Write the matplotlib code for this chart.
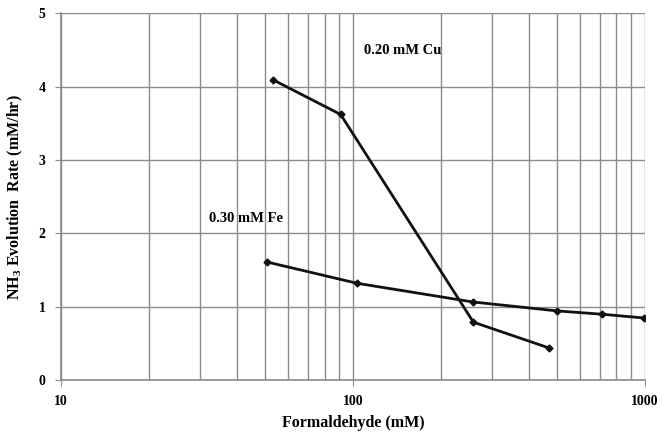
import numpy as np
import matplotlib
matplotlib.use('Agg')
import matplotlib.pyplot as plt
from matplotlib.ticker import LogLocator, FixedLocator, NullFormatter

plt.rcParams['font.family'] = ['Liberation Serif', 'DejaVu Serif']
plt.rcParams['font.weight'] = 'bold'
plt.rcParams['mathtext.fontset'] = 'custom'
plt.rcParams['mathtext.rm'] = 'Liberation Serif:bold'
plt.rcParams['mathtext.bf'] = 'Liberation Serif:bold'

# data
cu_x = [53.4, 90.8, 258.8, 469]
cu_y = [4.09, 3.62, 0.79, 0.44]
fe_x = [50.8, 103.4, 257, 500, 716, 990]
fe_y = [1.61, 1.32, 1.066, 0.944, 0.898, 0.848]
cu_label = '0.20 mM Cu'
fe_label = '0.30 mM Fe'

fig = plt.figure(figsize=(6.62, 4.38), dpi=100)
ax = fig.add_axes([0.092, 0.132, 0.882, 0.838])

grid_color = '#8c8c8c'
ax.set_xscale('log')
ax.set_xlim(10, 1000)
ax.set_ylim(0, 5)
ax.xaxis.set_major_locator(FixedLocator([10, 100, 1000]))
ax.xaxis.set_minor_locator(LogLocator(base=10, subs=np.arange(2, 10)))
ax.xaxis.set_minor_formatter(NullFormatter())
ax.set_xticks([10, 100, 1000])
ax.set_xticklabels(['10', '100', '1000'])
ax.set_yticks([0, 1, 2, 3, 4, 5])

ax.grid(True, which='both', axis='x', color=grid_color, linewidth=1.0)
ax.grid(True, which='major', axis='y', color=grid_color, linewidth=1.0)
ax.set_axisbelow(True)

for side in ['top', 'right']:
    ax.spines[side].set_visible(False)
for side in ['left', 'bottom']:
    ax.spines[side].set_color(grid_color)
    ax.spines[side].set_linewidth(1.2)

ax.tick_params(which='major', direction='out', length=4, color=grid_color,
               labelsize=10, pad=7)
ax.tick_params(which='minor', length=0)

ax.plot(cu_x, cu_y, color='#111111', linewidth=2.0, marker='D', markersize=3.5)
ax.plot(fe_x, fe_y, color='#111111', linewidth=2.0, marker='D', markersize=3.5)

ax.text(109, 4.49, cu_label, fontsize=10.5, fontweight='bold', va='center')
ax.text(32.1, 2.2, fe_label, fontsize=10.5, fontweight='bold', va='center')

ax.set_xlabel('Formaldehyde (mM)', fontsize=11.5, fontweight='bold', labelpad=5)
ax.set_ylabel(r'NH$_3$ Evolution  Rate (mM/hr)', fontsize=11.5, fontweight='bold', labelpad=10)

fig.savefig('out.png', dpi=100)
